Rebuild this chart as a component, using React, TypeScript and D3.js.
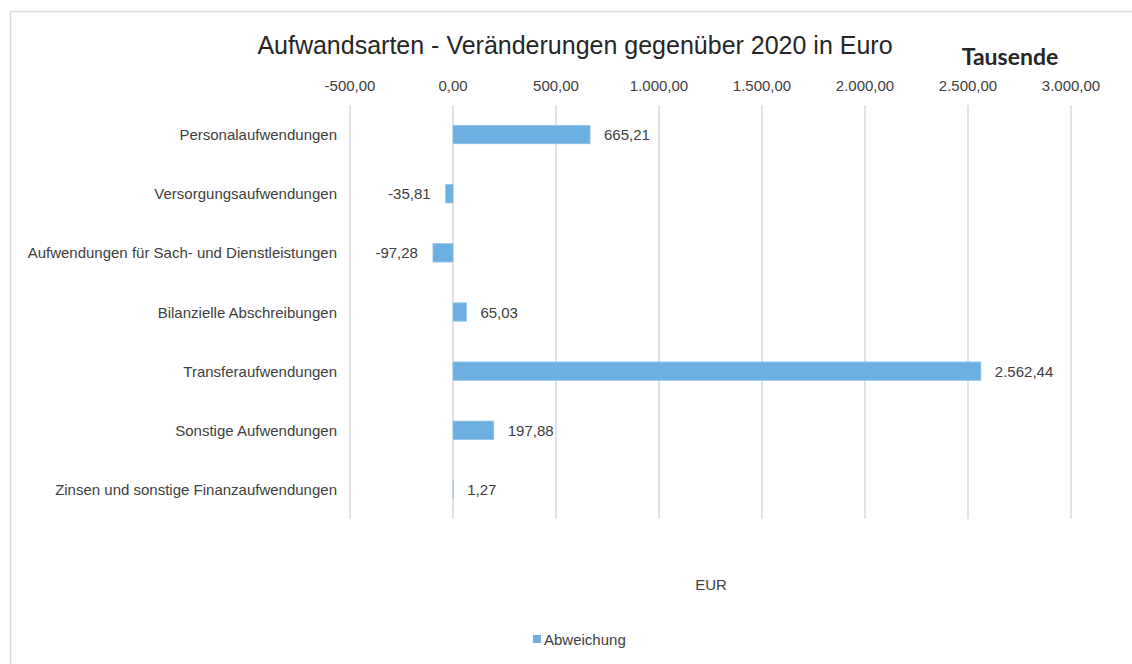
import React from "react";
import * as d3 from "d3";

const categories = [
  "Personalaufwendungen",
  "Versorgungsaufwendungen",
  "Aufwendungen für Sach- und Dienstleistungen",
  "Bilanzielle Abschreibungen",
  "Transferaufwendungen",
  "Sonstige Aufwendungen",
  "Zinsen und sonstige Finanzaufwendungen",
];
const values = [665.21, -35.81, -97.28, 65.03, 2562.44, 197.88, 1.27];
const ticks = [-500, 0, 500, 1000, 1500, 2000, 2500, 3000];

const fmt = (v: number) => {
  const s = d3.format(",.2f")(v);
  return s.replace(/,/g, "#").replace(/\./g, ",").replace(/#/g, ".").replace("−", "-");
};

export default function App() {
  const W = 1132, H = 664;
  const x = d3.scaleLinear().domain([-500, 3000]).range([350, 1071]);
  const y = d3.scaleBand<string>().domain(categories).range([105, 519]).paddingInner(0.69).paddingOuter(0.345);
  const font = "'Liberation Sans', Arial, sans-serif";
  const txt = "#404040";
  const barColor = "#6CB0E2";
  const fs = 15;
  return (
    <div style={{ position: "fixed", left: 0, top: 0 }}>
      <svg width={W} height={H} style={{ display: "block", background: "#fff" }}>
        <path d={`M10.5,${H} V11.5 H${W}`} fill="none" stroke="#d9d9d9" strokeWidth={1.5} />
        <text x={575} y={54} textAnchor="middle" fontFamily={font} fontSize={25} fill="#262626">
          Aufwandsarten - Veränderungen gegenüber 2020 in Euro
        </text>
        <text x={1010} y={65} textAnchor="middle" fontFamily="Lato, 'Open Sans', sans-serif" fontWeight="bold" fontSize={23} fill="#262626">
          Tausende
        </text>
        {ticks.map((t) => (
          <g key={t}>
            <line x1={x(t)} x2={x(t)} y1={105} y2={519} stroke="#d9d9d9" strokeWidth={1.5} />
            <text x={x(t)} y={91} textAnchor="middle" fontFamily={font} fontSize={fs} fill={txt}>
              {fmt(t)}
            </text>
          </g>
        ))}
        {categories.map((c, i) => {
          const v = values[i];
          const yc = (y(c) as number) + y.bandwidth() / 2;
          const x0 = x(Math.min(0, v));
          const x1 = x(Math.max(0, v));
          return (
            <g key={c}>
              <text x={337} y={yc + 5.5} textAnchor="end" fontFamily={font} fontSize={fs} fill={txt}>
                {c}
              </text>
              <rect x={x0} y={y(c)} width={Math.max(0, x1 - x0)} height={y.bandwidth()} fill={barColor} stroke="#8cc3ea" strokeWidth={0.75} />
              <text
                x={v >= 0 ? x1 + 14 : x0 - 15}
                y={yc + 5.5}
                textAnchor={v >= 0 ? "start" : "end"}
                fontFamily={font}
                fontSize={fs}
                fill={txt}
              >
                {fmt(v)}
              </text>
            </g>
          );
        })}
        <text x={711} y={590} textAnchor="middle" fontFamily={font} fontSize={fs} fill={txt}>
          EUR
        </text>
        <rect x={533} y={635} width={8} height={8} fill={barColor} />
        <text x={544} y={645} fontFamily={font} fontSize={fs} fill={txt}>
          Abweichung
        </text>
      </svg>
    </div>
  );
}
